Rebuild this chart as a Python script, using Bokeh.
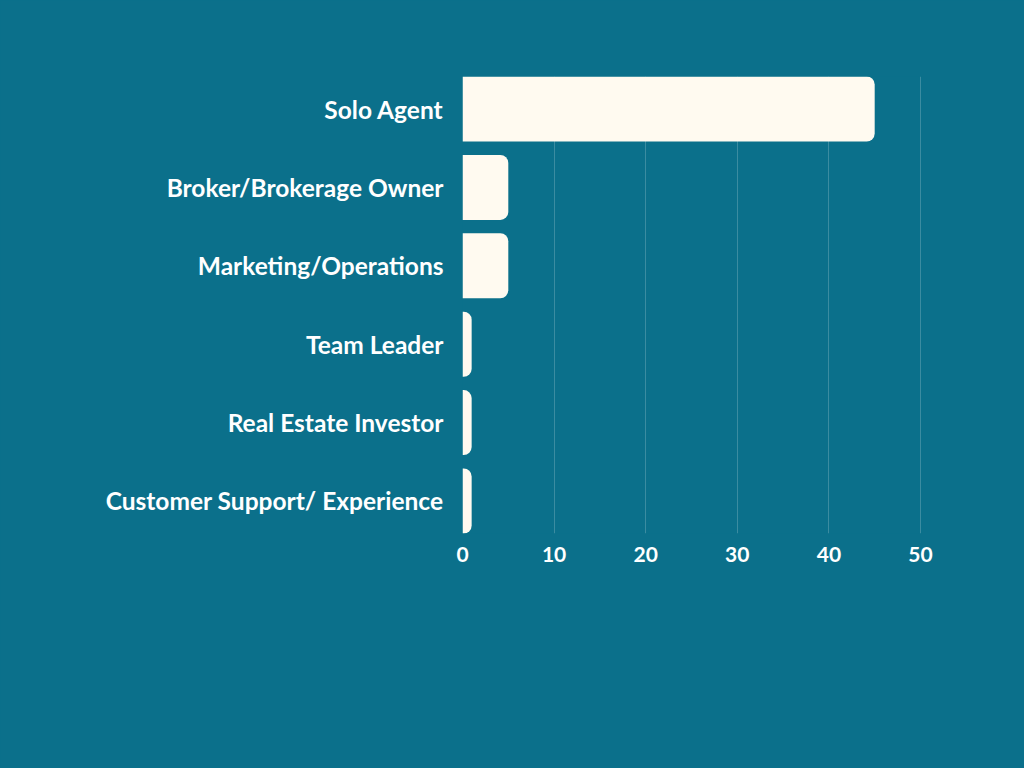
from bokeh.plotting import figure
from bokeh.models import Range1d, FactorRange
from bokeh.embed import file_html
from bokeh.resources import INLINE

categories = ["Solo Agent", "Broker/Brokerage Owner", "Marketing/Operations",
              "Team Leader", "Real Estate Investor", "Customer Support/ Experience"]
values = [45, 5, 5, 1, 1, 1]
x_ticks = [0, 10, 20, 30, 40, 50]

BG = "#0b708b"
BAR = "#fffaf0"

factors = list(reversed(categories))
yr = FactorRange(factors=factors, range_padding=-0.085, range_padding_units="absolute")

p = figure(width=1024, height=768, y_range=yr, x_range=Range1d(0, 50.11),
           output_backend="svg", toolbar_location=None,
           min_border_left=462, min_border_right=103, min_border_top=76, min_border_bottom=235)
p.background_fill_color = BG
p.border_fill_color = BG
p.outline_line_color = None
p.styles = {"background-color": BG}

p.hbar(y=categories, right=values, left=0, height=0.83, fill_color=BAR, line_color=None,
       border_radius=(0, 8, 8, 0))

p.ygrid.grid_line_color = None
p.xgrid.grid_line_color = "#3b8ca1"
p.xgrid.grid_line_width = 1
p.xaxis.ticker = x_ticks

for ax in (p.xaxis[0], p.yaxis[0]):
    ax.axis_line_color = None
    ax.major_tick_line_color = None
    ax.minor_tick_line_color = None
    ax.major_label_text_color = "#ffffff"
    ax.major_label_text_font = "Lato"
    ax.major_label_text_font_style = "bold"

p.yaxis.major_label_text_font_size = "24.5px"
p.xaxis.major_label_text_font_size = "21px"
p.yaxis.major_label_standoff = 13
p.xaxis.major_label_standoff = 7

open("out.html", "w").write(file_html(p, INLINE))
